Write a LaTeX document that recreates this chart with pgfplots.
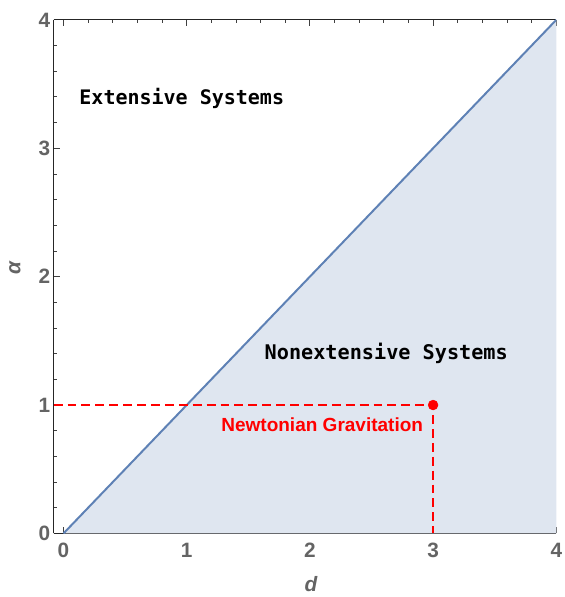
\documentclass[border=0pt]{standalone}
\usepackage{fontspec}
\setmainfont{Liberation Sans}
\newfontfamily\monofont{DejaVu Sans Mono}
\usepackage{pgfplots}
\pgfplotsset{compat=1.18}
\definecolor{linec}{RGB}{94,129,181}
\definecolor{fillc}{RGB}{223,230,240}
\definecolor{labgray}{RGB}{100,100,100}
\definecolor{ngred}{RGB}{255,0,0}
\begin{document}
\begin{tikzpicture}
\begin{axis}[
  scale only axis,
  width=506bp, height=517bp,
  xmin=-0.08, xmax=4, ymin=0, ymax=4,
  axis x line*=box, axis y line*=left,
  xtick={0,1,2,3,4}, ytick={0,1,2,3,4},
  minor x tick num=4, minor y tick num=4,
  xticklabel pos=lower,
  tick align=inside,
  major tick length=6bp, minor tick length=3.5bp,
  tick style={color=black!75, line width=0.8bp},
  axis line style={color=black!85, line width=1.1bp},
  /pgf/number format/assume math mode=true,
  ticklabel style={font=\bfseries\fontsize{21}{21}\selectfont, text=labgray},
  xticklabel style={anchor=base, yshift=-24.5bp},
  yticklabel style={anchor=east, xshift=0bp},
  xlabel={\bfseries\itshape d},
  ylabel={\bfseries\itshape α},
  label style={font=\fontsize{21}{21}\selectfont, text=labgray},
  xlabel style={at={(axis description cs:0.512,-0.114)}, anchor=base},
  ylabel style={at={(axis description cs:-0.077,0.516)}, anchor=center},
]
\addplot[fill=fillc, draw=none] coordinates {(0,0) (4,4) (4,0)} -- cycle;
\addplot[color=linec, line width=2bp] coordinates {(0,0) (4,4)};
\addplot[color=ngred, line width=2.8bp, dash pattern=on 9bp off 5bp] coordinates {(-0.08,1) (3,1) (3,0)};
\addplot[only marks, mark=*, mark size=5bp, color=ngred] coordinates {(3,1)};
\node[font=\monofont\bfseries\fontsize{20.2}{20}\selectfont] at (axis cs:0.96,3.39) {Extensive Systems};
\node[font=\monofont\bfseries\fontsize{20.4}{20}\selectfont] at (axis cs:2.62,1.40) {Nonextensive Systems};
\node[font=\bfseries\fontsize{19.2}{19}\selectfont, text=ngred] at (axis cs:2.10,0.845) {Newtonian Gravitation};
\end{axis}
\pgfresetboundingbox
\path[use as bounding box] ([xshift=-54bp,yshift=-64bp]current axis.south west) rectangle ([xshift=8bp,yshift=20bp]current axis.north east);
\end{tikzpicture}
\end{document}
